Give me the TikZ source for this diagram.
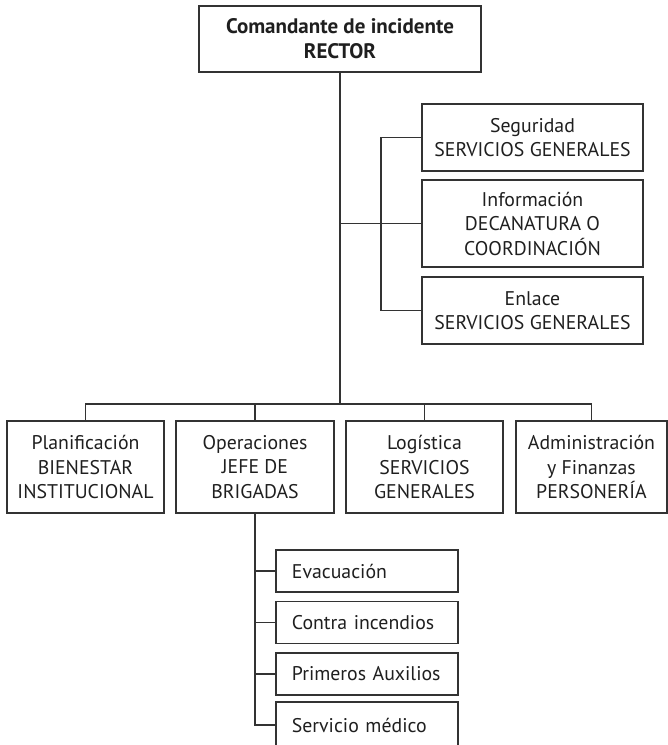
\documentclass[tikz,border=0pt]{standalone}
\usepackage{fontspec}
\setmainfont{PT Sans}

\begin{document}
\begin{tikzpicture}[
  x=1pt,
  y=-1pt,
  wire/.style={
    draw=black!80,
    line width=1.8pt
  },
  unit/.style={
    draw=black!80,
    line width=1.8pt,
    text=black!88,
    align=center,
    inner sep=0pt,
    font=\fontsize{19.8}{24.5}\selectfont
  },
  task/.style={
    unit,
    anchor=west,
    align=left,
    inner xsep=16pt,
    text width=150pt,
    minimum height=42pt
  },
]
\useasboundingbox (0,0) rectangle (668,745);

\node[unit, minimum width=282pt, minimum height=66pt,
  font=\fontsize{21}{25}\selectfont\bfseries] (cmd) at (340,39)
  {Comandante de incidente\\RECTOR};

\node[unit, minimum width=221pt, minimum height=67pt] (seg) at (532.5,137.5)
  {Seguridad\\SERVICIOS GENERALES};
\node[unit, minimum width=221pt, minimum height=87pt] (info) at (532.5,223.5)
  {Información\\DECANATURA O\\COORDINACIÓN};
\node[unit, minimum width=221pt, minimum height=67pt] (enl) at (532.5,310.5)
  {Enlace\\SERVICIOS GENERALES};

\node[unit, minimum width=157pt, minimum height=92pt] (plan) at (85.5,467)
  {Planificación\\BIENESTAR\\INSTITUCIONAL};
\node[unit, minimum width=158pt, minimum height=92pt] (oper) at (255,467)
  {Operaciones\\JEFE DE\\BRIGADAS};
\node[unit, minimum width=157pt, minimum height=92pt] (logi) at (424.5,467)
  {Logística\\SERVICIOS\\GENERALES};
\node[unit, minimum width=151pt, minimum height=92pt] (admi) at (591.5,467)
  {Administración\\y Finanzas\\PERSONERÍA};

\node[task] (evac) at (275,571) {Evacuación};
\node[task] (fire) at (275,622.5) {Contra incendios};
\node[task] (aid) at (275,674) {Primeros Auxilios};
\node[task, minimum height=46pt] (med) at (275,725) {Servicio médico};

\coordinate (bus) at (340,404);
\coordinate (bkt) at (381,0);

\draw[wire] (cmd) -- (bus);
\draw[wire] (bus |- info.west) -- (info.west);
\draw[wire] (seg.west) -| (bkt |- info.west) |- (enl.west);

\draw[wire] (plan.north) |- (bus) -| (admi.north);
\draw[wire] (oper.north) -- (oper.north |- bus);
\draw[wire] (logi.north) -- (logi.north |- bus);

\draw[wire] (oper.south) |- (med.west);
\foreach \t in {evac,fire,aid}
  \draw[wire] (oper.south |- \t.west) -- (\t.west);
\end{tikzpicture}
\end{document}
